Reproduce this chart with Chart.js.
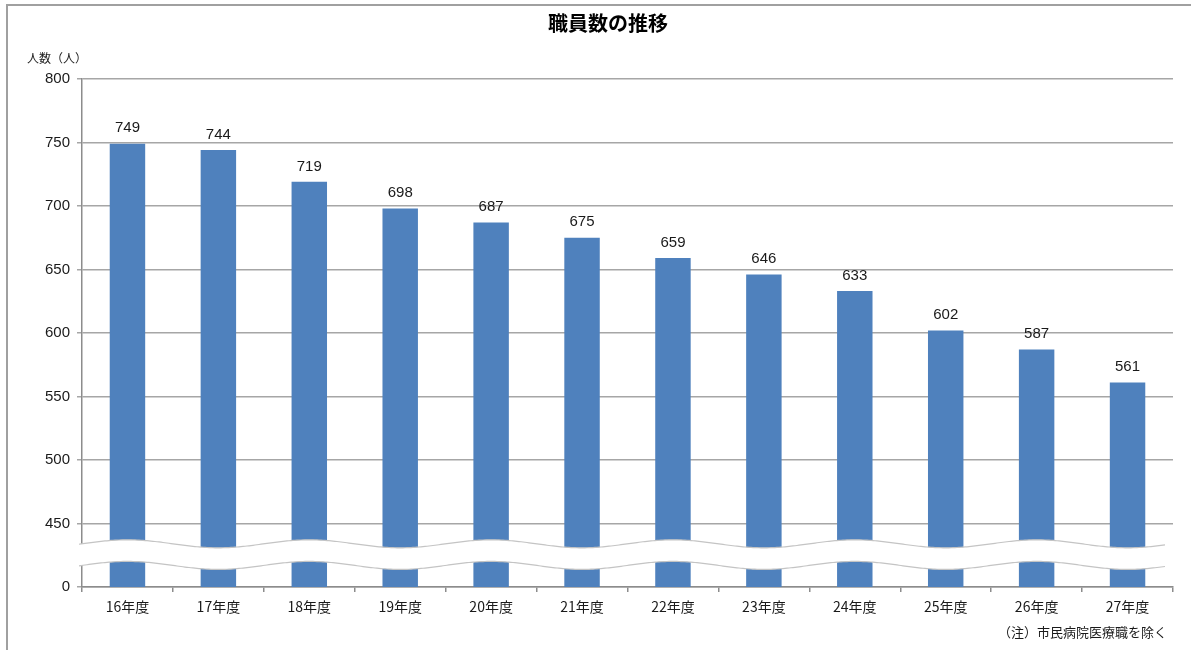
<!DOCTYPE html>
<html lang="ja">
<head>
<meta charset="utf-8">
<title>職員数の推移</title>
<script src="https://cdn.jsdelivr.net/npm/chart.js@4.4.1/dist/chart.umd.min.js"></script>
<style>
  html, body { margin: 0; padding: 0; background: #fff; }
  #wrap { width: 1191px; height: 650px; }
</style>
</head>
<body>
<div id="wrap"><canvas id="staffChart" width="1191" height="650"></canvas></div>
<script>
// 職員数（人）、年度別
const years = ["16年度", "17年度", "18年度", "19年度", "20年度", "21年度",
               "22年度", "23年度", "24年度", "25年度", "26年度", "27年度"];
const staffCounts = [749, 744, 719, 698, 687, 675, 659, 646, 633, 602, 587, 561];

// y axis is broken: the floor of the scale stands for 0
const axisFloor = 400;
const axisTop = 800;
const axisStep = 50;

const titleText = "職員数の推移";
const yCaption = "人数（人）";
const noteText = "（注）市民病院医療職を除く";

const barColor = "#4f81bd";
const gridColor = "#a6a6a6";
const axisColor = "#8c8c8c";
const textColor = "#1a1a1a";
const numFont = "'Liberation Sans', Arial, sans-serif";
const jpFont = "'Noto Sans CJK JP', sans-serif";

// value labels above each bar
const valueLabels = {
  id: "valueLabels",
  afterDatasetsDraw(chart) {
    const ctx = chart.ctx;
    const meta = chart.getDatasetMeta(0);
    ctx.save();
    ctx.font = "15px " + numFont;
    ctx.fillStyle = textColor;
    ctx.textAlign = "center";
    ctx.textBaseline = "bottom";
    meta.data.forEach((bar, i) => {
      ctx.fillText(String(staffCounts[i]), bar.x, bar.y - 8);
    });
    ctx.restore();
  }
};

// wavy white band marking the gap between 0 and 450
const axisBreak = {
  id: "axisBreak",
  afterDatasetsDraw(chart) {
    const ctx = chart.ctx;
    const x = chart.scales.x;
    const y = chart.scales.y;
    const area = chart.chartArea;
    const c0 = x.getPixelForValue(0);
    const period = (x.getPixelForValue(1) - c0) * 2;
    const top = y.getPixelForValue(434);
    const bottom = y.getPixelForValue(417);
    const amp = 4;
    const x0 = area.left - 3;
    const x1 = area.right - 8;
    const wave = (px) => -amp * Math.cos(2 * Math.PI * (px - c0) / period);

    const topPts = [];
    const botPts = [];
    for (let px = x0; px <= x1; px += 2) {
      topPts.push([px, top + wave(px)]);
      botPts.push([px, bottom + wave(px)]);
    }

    ctx.save();
    ctx.beginPath();
    topPts.forEach((p, i) => i ? ctx.lineTo(p[0], p[1]) : ctx.moveTo(p[0], p[1]));
    for (let i = botPts.length - 1; i >= 0; i--) ctx.lineTo(botPts[i][0], botPts[i][1]);
    ctx.closePath();
    ctx.fillStyle = "#ffffff";
    ctx.fill();

    ctx.strokeStyle = "#c4c4c4";
    ctx.lineWidth = 1.2;
    [topPts, botPts].forEach(pts => {
      ctx.beginPath();
      pts.forEach((p, i) => i ? ctx.lineTo(p[0], p[1]) : ctx.moveTo(p[0], p[1]));
      ctx.stroke();
    });
    ctx.restore();
  }
};

// title, captions and the outer frame
const chartTexts = {
  id: "chartTexts",
  beforeDraw(chart) {
    const ctx = chart.ctx;
    ctx.save();
    ctx.fillStyle = "#ffffff";
    ctx.fillRect(0, 0, chart.width, chart.height);
    ctx.strokeStyle = "#a0a0a0";
    ctx.lineWidth = 2;
    ctx.beginPath();
    ctx.moveTo(7, chart.height);
    ctx.lineTo(7, 5);
    ctx.lineTo(chart.width, 5);
    ctx.stroke();
    ctx.restore();
  },
  afterDraw(chart) {
    const ctx = chart.ctx;
    ctx.save();
    ctx.fillStyle = "#000";
    ctx.textBaseline = "middle";
    ctx.textAlign = "center";
    ctx.font = "bold 20px " + jpFont;
    ctx.fillText(titleText, 608, 23);

    ctx.fillStyle = textColor;
    ctx.textAlign = "left";
    ctx.font = "12px " + jpFont;
    ctx.fillText(yCaption, 27, 58);

    ctx.textAlign = "right";
    ctx.font = "13px " + jpFont;
    ctx.fillText(noteText, 1167, 632);
    ctx.restore();
  }
};

const ctx = document.getElementById("staffChart").getContext("2d");

new Chart(ctx, {
  type: "bar",
  data: {
    labels: years,
    datasets: [
      {
        label: "職員数",
        data: staffCounts,
        backgroundColor: barColor,
        borderWidth: 0,
        barPercentage: 0.39,
        categoryPercentage: 1.0
      }
    ]
  },
  options: {
    responsive: false,
    animation: false,
    layout: {
      padding: { top: 79, right: 18, bottom: 0, left: 0 }
    },
    plugins: {
      legend: { display: false },
      title: { display: false },
      tooltip: { enabled: false }
    },
    scales: {
      x: {
        afterFit(scale) { scale.height = 63; },
        grid: {
          drawOnChartArea: false,
          drawTicks: true,
          tickLength: 5,
          color: axisColor,
          lineWidth: 1.5
        },
        border: { color: axisColor, width: 1.5 },
        ticks: {
          color: textColor,
          padding: 6,
          font: { family: jpFont, size: 14 }
        }
      },
      y: {
        min: axisFloor,
        max: axisTop,
        afterFit(scale) { scale.width = 82; },
        grid: {
          color: gridColor,
          lineWidth: 1.5,
          tickLength: 5
        },
        border: { color: axisColor, width: 1.5 },
        ticks: {
          stepSize: axisStep,
          color: textColor,
          padding: 7,
          font: { family: numFont, size: 15 },
          callback: (v) => v === axisFloor ? "0" : String(v)
        }
      }
    }
  },
  plugins: [chartTexts, axisBreak, valueLabels]
});
</script>
</body>
</html>
